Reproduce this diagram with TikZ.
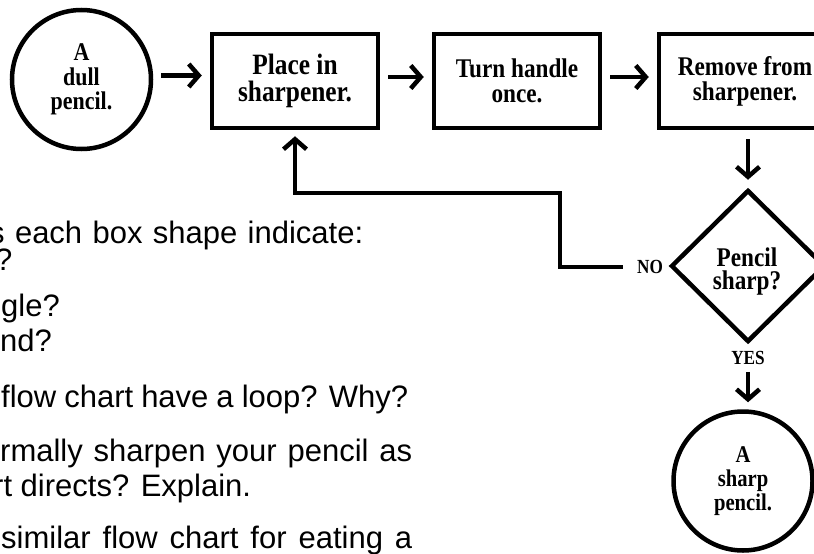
\documentclass[tikz,border=0pt]{standalone}
\usepackage{fontspec}
\setmainfont{Liberation Serif}
\newfontfamily\boxfont{Liberation Serif}[FakeStretch=0.86]
\newfontfamily\qfont{Liberation Sans}
\usetikzlibrary{arrows.meta,shapes.geometric}

% one justified line of question text, spread to a given width
\newcommand{\qline}[2]{\makebox[#1pt][s]{#2}}

\begin{document}
\begin{tikzpicture}[x=1pt,y=-1pt,
  every node/.style={inner sep=0pt},
  chart/.style={draw,line width=4.5pt,align=center,
    font=\boxfont\bfseries\fontsize{27}{25}\selectfont},
  terminal/.style={chart,circle,minimum size=139pt,
    font=\boxfont\bfseries\fontsize{24}{24}\selectfont},
  stepbox/.style={chart,rectangle,minimum width=166pt,minimum height=94pt},
  decision/.style={chart,diamond,minimum width=154pt,minimum height=152pt},
  decisiontext/.style={align=center,
    font=\boxfont\bfseries\fontsize{27}{23}\selectfont},
  branch/.style={font=\boxfont\bfseries\fontsize{20}{20}\selectfont},
  flow/.style={line width=4.5pt,-{Straight Barb[length=10pt,width=23pt]},
    shorten <=8pt,shorten >=8pt},
  question/.style={anchor=base west,font=\qfont\fontsize{31}{31}\selectfont},
]
\useasboundingbox (0,0) rectangle (814,554);
\fill[white] (0,0) rectangle (814,554);
\clip (0,0) rectangle (814,554);

% flow chart shapes
\node[terminal,font=\boxfont\bfseries\fontsize{25.5}{24.5}\selectfont]
  (dull) at (81.5,79.5) {A\\dull\\pencil.};
\node[stepbox,font=\boxfont\bfseries\fontsize{29.5}{27}\selectfont]
  (place) at (295,81) {Place in\\sharpener.};
\node[stepbox] (turn) at (517,81) {Turn handle\\once.};
\node[stepbox,minimum width=172pt] (remove) at (745,81) {Remove from\\sharpener.};
\node[decision] (decide) at (748,266) {};
\node[decisiontext] (decidelabel) at (747,272) {Pencil\\sharp?};
\node[terminal] (sharp) at (743,481) {A\\sharp\\pencil.};

% branch labels
\node[branch] (no) at (650,267) {NO};
\node[branch] (yes) at (748,358) {YES};
\coordinate (corner) at (560,193);

% connectors
\draw[flow] ([yshift=4pt]dull.east) -- ([yshift=4pt]dull.east -| place.west);
\draw[flow] ([yshift=4pt]place.east) -- ([yshift=4pt]turn.west);
\draw[flow] ([yshift=4pt]turn.east) -- ([yshift=4pt]remove.west);
\draw[flow,shorten <=9pt] (decide.north |- remove.south) -- (decide.north);
\draw[flow,shorten <=14pt,shorten >=6pt] (no.west) -| (corner) -| (place.south);
\draw[flow,shorten <=7pt,shorten >=7pt] (yes.south) -- (yes.south |- sharp.north);

% questions beside the chart
\node[question] (q1) at (-11,243) {\qline{374}{s each box shape indicate:}};
\node[question] (q1a) at (-5,270) {?};
\node[question] (q1b) at (1,316) {gle?};
\node[question] (q1c) at (0,351) {nd?};
\node[question] (q2) at (1,407) {\qline{407}{flow chart have a loop? Why?}};
\node[question] (q3) at (0,461) {\qline{412}{rmally sharpen your pencil as}};
\node[question] (q3b) at (-7,496) {rt directs? Explain.};
\node[question] (q4) at (1,548) {\qline{411}{similar flow chart for eating a}};
\end{tikzpicture}
\end{document}
